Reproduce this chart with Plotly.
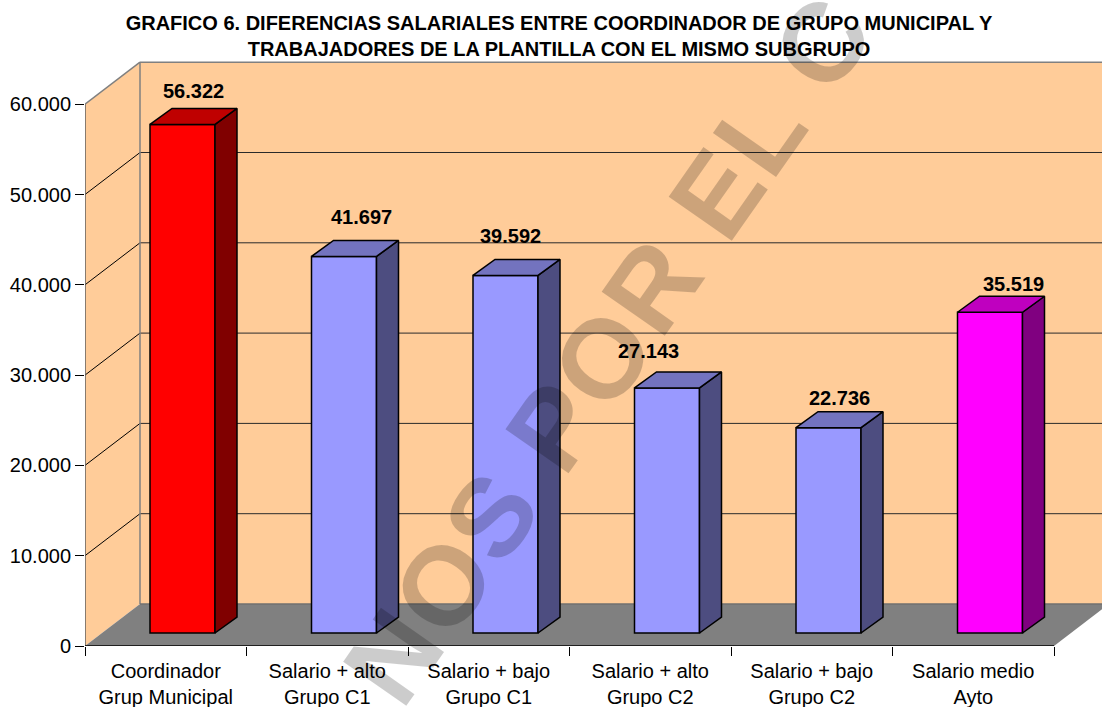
import math
import plotly.graph_objects as go

# ---- data ----
categories = ["Coordinador<br>Grup Municipal", "Salario + alto<br>Grupo C1", "Salario + bajo<br>Grupo C1",
              "Salario + alto<br>Grupo C2", "Salario + bajo<br>Grupo C2", "Salario medio<br>Ayto"]
values = [56322, 41697, 39592, 27143, 22736, 35519]
y_ticks = [0, 10000, 20000, 30000, 40000, 50000, 60000]
title_text = ("<b>GRAFICO 6. DIFERENCIAS SALARIALES ENTRE COORDINADOR DE GRUPO MUNICIPAL Y<br>"
              "TRABAJADORES DE LA PLANTILLA CON EL MISMO SUBGRUPO</b>")
watermark = "NOS POR EL C"

# ---- styles ----
front_colors = ["#FF0000", "#9999FF", "#9999FF", "#9999FF", "#9999FF", "#FF00FF"]
side_colors = ["#800000", "#4D4D80", "#4D4D80", "#4D4D80", "#4D4D80", "#800080"]
top_colors = ["#BF0000", "#7373BF", "#7373BF", "#7373BF", "#7373BF", "#BF00BF"]
label_shift_x = [11, 17, 5, -19, 11, 23]
label_shift_y = [33, 39, 39, 37, 30, 28]
FONT = "Liberation Sans"

# ---- pixel scale of the pseudo 3D projection ----
W, H = 1102, 707
L, R, T, B = 85, 0, 60, 61
CAT_PX = 161.5
VAL_PX = 90.3 / 10000
px_x = lambda p: p / CAT_PX
px_v = lambda p: p / VAL_PX
wall_dx, wall_dv = px_x(55), px_v(42)
bar_dx, bar_dv = px_x(22), px_v(16)
bar_off, bar_base = px_x(16.75), px_v(13)
bar_w = px_x(65)
n = len(categories)
x_max = (W - L - R) / CAT_PX
v_max = (H - T - B) / VAL_PX
v_top = y_ticks[-1]

fig = go.Figure()

# walls, floor, grid
shapes = []
def poly(pts, fill, line=None, width=0):
    path = "M " + " L ".join(f"{x},{y}" for x, y in pts) + " Z"
    shapes.append(dict(type="path", path=path, xref="x", yref="y", fillcolor=fill, layer="below",
                       line=dict(color=line or fill, width=width)))
def seg(x0, y0, x1, y1, color, width=1):
    shapes.append(dict(type="line", x0=x0, y0=y0, x1=x1, y1=y1, xref="x", yref="y", layer="below",
                       line=dict(color=color, width=width)))

WALL, FLOOR = "#FFCC99", "#808080"
poly([(0, 0), (wall_dx, wall_dv), (wall_dx, v_top + wall_dv), (0, v_top)], WALL)
poly([(wall_dx, wall_dv), (n + wall_dx, wall_dv), (n + wall_dx, v_top + wall_dv), (wall_dx, v_top + wall_dv)], WALL)
poly([(0, 0), (n, 0), (n + wall_dx, wall_dv), (wall_dx, wall_dv)], FLOOR)
for t in y_ticks[1:-1]:
    seg(0, t, wall_dx, t + wall_dv, "#000000", 1)
    seg(wall_dx, t + wall_dv, n + wall_dx, t + wall_dv, "#2a2a2a", 1)
seg(0, v_top, wall_dx, v_top + wall_dv, FLOOR, 1.5)
seg(wall_dx, v_top + wall_dv, n + wall_dx, v_top + wall_dv, FLOOR, 1.5)
seg(wall_dx, wall_dv, wall_dx, v_top + wall_dv, FLOOR, 1.5)
seg(wall_dx, wall_dv, n + wall_dx, wall_dv, "#707070", 1.5)
seg(0, 0, 0, v_top, "#606060", 1.5)
seg(0, 0, n, 0, "#000000", 1.3)

# bars: front faces through the bar trace
xc = [i + 0.5 + bar_off for i in range(n)]
fig.add_trace(go.Bar(x=xc, y=values, base=[bar_base] * n, width=[bar_w] * n,
                     marker=dict(color=front_colors, line=dict(color="black", width=1.5)),
                     hoverinfo="skip", showlegend=False))
# side and top faces derived from the same values
for i, v in enumerate(values):
    l, r = xc[i] - bar_w / 2, xc[i] + bar_w / 2
    b, t = bar_base, bar_base + v
    for xs, ys, col in (
        ([r, r + bar_dx, r + bar_dx, r, r], [b, b + bar_dv, t + bar_dv, t, b], side_colors[i]),
        ([l, l + bar_dx, r + bar_dx, r, l], [t, t + bar_dv, t + bar_dv, t, t], top_colors[i]),
    ):
        fig.add_trace(go.Scatter(x=xs, y=ys, mode="lines", fill="toself", fillcolor=col,
                                 line=dict(color="black", width=1.5), hoverinfo="skip", showlegend=False))

annotations = []
# value labels
for i, v in enumerate(values):
    annotations.append(dict(x=xc[i], y=bar_base + v, xref="x", yref="y", showarrow=False,
                            text="<b>" + f"{v:,}".replace(",", ".") + "</b>",
                            xshift=label_shift_x[i], yshift=label_shift_y[i],
                            font=dict(family=FONT, size=20, color="black")))

# watermark: one rotated letter at a time
ang = 55.0
dir_x, dir_y = math.cos(math.radians(ang)), -math.sin(math.radians(ang))
up_x, up_y = -math.sin(math.radians(ang)), -math.cos(math.radians(ang))
adv = {"N": .722, "O": .778, "S": .667, " ": .278, "P": .667, "R": .722, "E": .667, "L": .611, "C": .722}
wm_size = 112
wm_em = 116
pos = 0.0
start_x, start_y = 400, 712
for ch in watermark:
    w = adv[ch] * wm_em
    if ch != " ":
        cx = start_x + dir_x * (pos + w / 2) + up_x * 37
        cy = start_y + dir_y * (pos + w / 2) + up_y * 37
        annotations.append(dict(x=(cx - L) / (W - L - R), y=1 - (cy - T) / (H - T - B), xref="paper", yref="paper",
                                text=f"<b>{ch}</b>", showarrow=False, textangle=-ang, xanchor="center", yanchor="middle",
                                font=dict(family=FONT, size=wm_size, color="rgba(0,0,0,0.2)")))
    pos += w

fig.update_layout(
    width=W, height=H, margin=dict(l=L, r=R, t=T, b=B, autoexpand=False), paper_bgcolor="white", plot_bgcolor="white",
    separators=",.", font=dict(family=FONT, size=20, color="black"), showlegend=False,
    title=dict(text=title_text, x=559 / W, xanchor="center", y=1 - 30 / H, yanchor="middle",
               font=dict(family=FONT, size=20, color="black"), automargin=False),
    xaxis=dict(range=[0, x_max], tickvals=[i + 0.5 for i in range(n)], ticktext=categories, ticks="", showgrid=False,
               zeroline=False, showline=False, tickfont=dict(family=FONT, size=20), ticklabelstandoff=11, automargin=False,
               minor=dict(tickvals=list(range(n + 1)), ticks="outside", ticklen=9, tickcolor="black", tickwidth=1, showgrid=False)),
    yaxis=dict(range=[0, v_max], tickvals=y_ticks, tickformat=",d", ticks="outside", ticklen=9, tickcolor="black", tickwidth=1,
               showgrid=False, zeroline=False, showline=False, tickfont=dict(family=FONT, size=20), automargin=False),
    shapes=shapes, annotations=annotations,
)
fig.write_html("out.html", config=dict(displayModeBar=False),
               post_script="document.body.style.margin='0';document.documentElement.style.overflow='hidden';")
